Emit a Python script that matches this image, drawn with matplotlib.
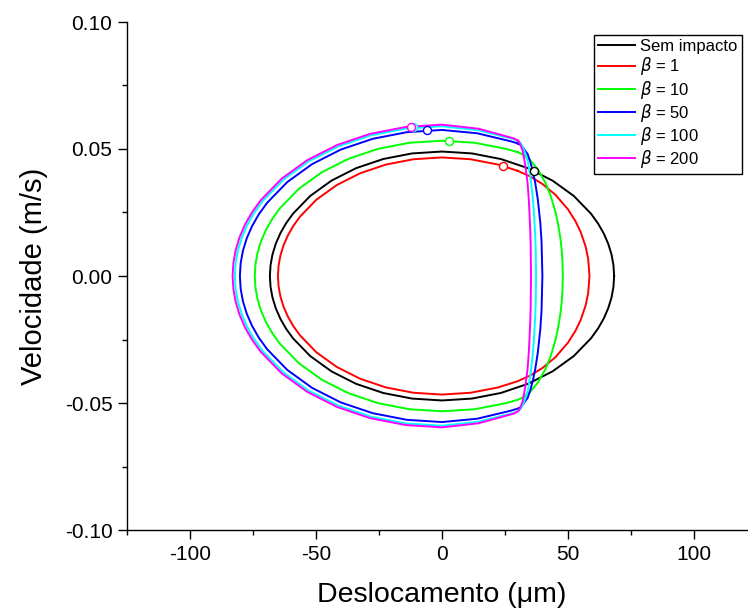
import matplotlib
matplotlib.use("Agg")
import matplotlib.pyplot as plt
from matplotlib.ticker import MultipleLocator, FormatStrFormatter

# dados: deslocamento (um) e velocidade (m/s)
x_sem = [68.3, 68.04, 67.26, 65.97, 64.18, 61.90, 59.15, 52.32, 43.90, 34.15, 23.36, 11.86, 0.0,
         -11.86, -23.36, -34.15, -43.90, -52.32, -59.15, -61.90, -64.18, -65.97, -67.26, -68.04, -68.3,
         -68.04, -67.26, -65.97, -64.18, -61.90, -59.15, -52.32, -43.90, -34.15, -23.36, -11.86, 0.0,
         11.86, 23.36, 34.15, 43.90, 52.32, 59.15, 61.90, 64.18, 65.97, 67.26, 68.04, 68.3]
v_sem = [0.0, 0.00427, 0.00851, 0.01268, 0.01676, 0.02071, 0.0245, 0.0315, 0.03753, 0.04243, 0.04605,
         0.04826, 0.049, 0.04826, 0.04605, 0.04243, 0.03753, 0.0315, 0.0245, 0.02071, 0.01676, 0.01268,
         0.00851, 0.00427, 0.0, -0.00427, -0.00851, -0.01268, -0.01676, -0.02071, -0.0245, -0.0315,
         -0.03753, -0.04243, -0.04605, -0.04826, -0.049, -0.04826, -0.04605, -0.04243, -0.03753,
         -0.0315, -0.0245, -0.02071, -0.01676, -0.01268, -0.00851, -0.00427, 0.0]

x_b1 = [30.0, 22.26, 11.30, 0.0, -11.30, -22.26, -32.55, -41.85, -49.87, -56.38, -59.00, -61.17, -62.88,
        -64.11, -64.85, -65.1, -64.85, -64.11, -62.88, -61.17, -59.00, -56.38, -49.87, -41.85, -32.55,
        -22.26, -11.30, 0.0, 11.30, 22.26, 30.0, 35.0, 40.0, 45.0, 50.0, 53.0, 55.0, 57.0, 58.0, 58.52,
        58.0, 57.0, 55.0, 53.0, 50.0, 45.0, 40.0, 35.0, 30.0]
v_b1 = [0.04143, 0.04387, 0.04597, 0.04668, 0.04597, 0.04387, 0.04043, 0.03576, 0.03001, 0.02334,
        0.01973, 0.01596, 0.01208, 0.0081, 0.00407, 0.0, -0.00407, -0.0081, -0.01208, -0.01596,
        -0.01973, -0.02334, -0.03001, -0.03576, -0.04043, -0.04387, -0.04597, -0.04668, -0.04597,
        -0.04387, -0.04143, -0.03919, -0.03612, -0.03197, -0.02623, -0.02151, -0.01739, -0.01156,
        -0.0068, 0.0, 0.0068, 0.01156, 0.01739, 0.02151, 0.02623, 0.03197, 0.03612, 0.03919, 0.04143]

x_b10 = [30.0, 25.41, 12.90, 0.0, -12.90, -25.41, -37.15, -47.76, -56.91, -64.34, -67.34, -69.82, -71.77,
         -73.17, -74.02, -74.3, -74.02, -73.17, -71.77, -69.82, -67.34, -64.34, -56.91, -47.76, -37.15,
         -25.41, -12.90, 0.0, 12.90, 25.41, 30.0, 32.0, 35.0, 38.0, 41.0, 43.0, 45.0, 46.0, 47.0, 47.5,
         47.8, 47.95, 47.8, 47.5, 47.0, 46.0, 45.0, 43.0, 41.0, 38.0, 35.0, 32.0, 30.0]
v_b10 = [0.04874, 0.05006, 0.05246, 0.05327, 0.05246, 0.05006, 0.04613, 0.0408, 0.03424, 0.02664,
         0.02251, 0.01822, 0.01379, 0.00925, 0.00465, 0.0, -0.00465, -0.00925, -0.01379, -0.01822,
         -0.02251, -0.02664, -0.03424, -0.0408, -0.04613, -0.05006, -0.05246, -0.05327, -0.05246,
         -0.05006, -0.04874, -0.04787, -0.0456, -0.04203, -0.03677, -0.03192, -0.0253, -0.02084,
         -0.01472, -0.01018, -0.00588, 0.0, 0.00588, 0.01018, 0.01472, 0.02084, 0.0253, 0.03192,
         0.03677, 0.04203, 0.0456, 0.04787, 0.04874]

x_b50 = [30.0, 27.43, 13.92, 0.0, -13.92, -27.43, -40.10, -51.55, -61.43, -69.45, -72.69, -75.36, -77.47,
         -78.98, -79.90, -80.2, -79.90, -78.98, -77.47, -75.36, -72.69, -69.45, -61.43, -51.55, -40.10,
         -27.43, -13.92, 0.0, 13.92, 27.43, 30.0, 30.5, 31.0, 32.0, 33.0, 34.0, 35.0, 36.0, 37.0, 38.0,
         39.0, 39.5, 39.84, 39.5, 39.0, 38.0, 37.0, 36.0, 35.0, 34.0, 33.0, 32.0, 31.0, 30.5, 30.0]
v_b50 = [0.0522, 0.0530, 0.0562, 0.0575, 0.05663, 0.05403, 0.0498, 0.04405, 0.03696, 0.02875, 0.0243,
         0.01967, 0.01488, 0.00998, 0.00501, 0.0, -0.00501, -0.00998, -0.01488, -0.01967, -0.0243,
         -0.02875, -0.03696, -0.04405, -0.0498, -0.05403, -0.05663, -0.0575, -0.0562, -0.0530, -0.0522,
         -0.0520, -0.0517, -0.0508, -0.0493, -0.04797, -0.0451, -0.04141, -0.03665, -0.03032, -0.02104,
         -0.01359, 0.0, 0.01359, 0.02104, 0.03032, 0.03665, 0.04141, 0.0451, 0.04797, 0.0493, 0.0508,
         0.0517, 0.0520, 0.0522]

x_b100 = [30.0, 28.11, 14.27, 0.0, -14.27, -28.11, -41.10, -52.84, -62.97, -71.19, -74.50, -77.24, -79.40,
          -80.95, -81.89, -82.2, -81.89, -80.95, -79.40, -77.24, -74.50, -71.19, -62.97, -52.84, -41.10,
          -28.11, -14.27, 0.0, 14.27, 28.11, 30.0, 30.5, 31.0, 32.0, 33.0, 34.0, 35.0, 36.0, 36.5, 37.0,
          37.2, 37.32, 37.2, 37.0, 36.5, 36.0, 35.0, 34.0, 33.0, 32.0, 31.0, 30.5, 30.0]
v_b100 = [0.0533, 0.0540, 0.0574, 0.05894, 0.05804, 0.05539, 0.05104, 0.04515, 0.03789, 0.02947,
          0.02491, 0.02016, 0.01525, 0.01023, 0.00514, 0.0, -0.00514, -0.01023, -0.01525, -0.02016,
          -0.02491, -0.02947, -0.03789, -0.04515, -0.05104, -0.05539, -0.05804, -0.05894, -0.0574,
          -0.0540, -0.0533, -0.0530, -0.0525, -0.0510, -0.0484, -0.04535, -0.03948, -0.03093, -0.02483,
          -0.01584, -0.00986, 0.0, 0.00986, 0.01584, 0.02483, 0.03093, 0.03948, 0.04535, 0.0484, 0.0510,
          0.0525, 0.0530, 0.0533]

x_b200 = [30.0, 28.42, 14.43, 0.0, -14.43, -28.42, -41.55, -53.42, -63.65, -71.96, -75.31, -78.09, -80.27,
          -81.84, -82.78, -83.1, -82.78, -81.84, -80.27, -78.09, -75.31, -71.96, -63.65, -53.42, -41.55,
          -28.42, -14.43, 0.0, 14.43, 28.42, 30.0, 30.5, 31.0, 32.0, 33.0, 34.0, 34.5, 35.0, 35.2, 35.32,
          35.2, 35.0, 34.5, 34.0, 33.0, 32.0, 31.0, 30.5, 30.0]
v_b200 = [0.0534, 0.0542, 0.0580, 0.05958, 0.05867, 0.05599, 0.0516, 0.04564, 0.0383, 0.02979, 0.02518,
          0.02038, 0.01542, 0.01034, 0.0052, 0.0, -0.0052, -0.01034, -0.01542, -0.02038, -0.02518,
          -0.02979, -0.0383, -0.04564, -0.0516, -0.05599, -0.05867, -0.05958, -0.0580, -0.0542, -0.0534,
          -0.0529, -0.0520, -0.0494, -0.0440, -0.0362, -0.02926, -0.01871, -0.01153, 0.0, 0.01153,
          0.01871, 0.02926, 0.0362, 0.0440, 0.0494, 0.0520, 0.0529, 0.0534]

# pontos marcados (circulos)
mark_x = [36.4, 24.4, 2.8, -5.9, -11.5, -12.4]
mark_v = [0.04146, 0.04327, 0.05324, 0.05735, 0.0585, 0.0588]

labels = ["Sem impacto", r"$\beta$ = 1", r"$\beta$ = 10", r"$\beta$ = 50", r"$\beta$ = 100", r"$\beta$ = 200"]
cores = ["#000000", "#FF0000", "#00FF00", "#0000FF", "#00FFFF", "#FF00FF"]

plt.rcParams['font.family'] = ['Liberation Sans', 'DejaVu Sans']
plt.rcParams['axes.unicode_minus'] = False

fig = plt.figure(figsize=(7.48, 6.10), dpi=100)
ax = fig.add_axes([127 / 748, 1 - 530 / 610, (757 - 127) / 748, 508 / 610])

curvas = [(x_sem, v_sem), (x_b1, v_b1), (x_b10, v_b10), (x_b50, v_b50), (x_b100, v_b100), (x_b200, v_b200)]
for (xs, vs), lab, c in zip(curvas, labels, cores):
    ax.plot(xs, vs, color=c, lw=1.4, label=lab, solid_joinstyle='round')

for mx, mv, c in zip(mark_x, mark_v, cores):
    ax.plot([mx], [mv], 'o', ms=5.8, mfc='white', mec=c, mew=1.0, zorder=5)

ax.set_xlim(-125, 125)
ax.set_ylim(-0.10, 0.10)
ax.xaxis.set_major_locator(MultipleLocator(50))
ax.xaxis.set_minor_locator(MultipleLocator(25))
ax.yaxis.set_major_locator(MultipleLocator(0.05))
ax.yaxis.set_minor_locator(MultipleLocator(0.025))
ax.xaxis.set_major_formatter(FormatStrFormatter('%d'))
ax.yaxis.set_major_formatter(FormatStrFormatter('%.2f'))

ax.spines['top'].set_visible(False)
ax.spines['right'].set_visible(False)
for s in ['left', 'bottom']:
    ax.spines[s].set_linewidth(1.0)
ax.tick_params(which='major', direction='out', length=6.5, width=1.0, labelsize=15, pad=4)
ax.tick_params(which='minor', direction='out', length=3.5, width=1.0)

ax.set_xlabel("Deslocamento (\u03bcm)", fontsize=20.5, labelpad=13)
ax.set_ylabel("Velocidade (m/s)", fontsize=21, labelpad=12)

leg = ax.legend(loc='upper right', bbox_to_anchor=(0.976, 0.9744), borderaxespad=0,
                fontsize=12, frameon=True, fancybox=False, framealpha=1, edgecolor='black',
                borderpad=0.25, handlelength=2.2, handletextpad=0.35, labelspacing=0.07)
leg.get_frame().set_linewidth(1.0)

fig.savefig("out.png", dpi=100)
